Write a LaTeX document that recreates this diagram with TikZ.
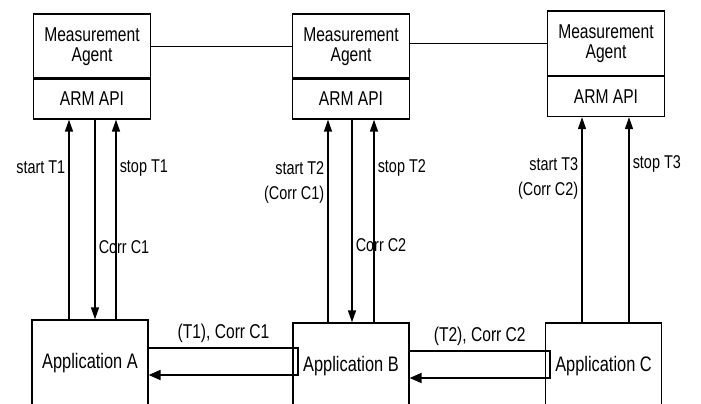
\documentclass[tikz,border=0pt]{standalone}
\usepackage{fontspec}
\setmainfont[FakeStretch=0.78]{Liberation Sans}
\usetikzlibrary{arrows.meta,calc}

\begin{document}
\begin{tikzpicture}[x=1pt,y=-1pt]
        \tikzstyle{every node}=[font=\fontsize{20}{20}\selectfont]
        \tikzstyle{agent}=[draw, line width=1.3pt, minimum width=117pt, minimum height=65pt, inner sep=0pt, align=center]
        \tikzstyle{api}=[draw, line width=1.3pt, minimum width=117pt, minimum height=40pt, inner sep=0pt]
        \tikzstyle{app}=[draw, line width=1.3pt, minimum width=116pt, minimum height=86pt, inner sep=0pt, font=\fontsize{21}{22}\selectfont]
        \tikzstyle{call}=[->, >={Triangle[length=12pt,width=8pt]}, line width=1.5pt]
        \tikzstyle{flow}=[->, >={Triangle[length=12pt,width=10pt]}, line width=2pt]
        \tikzstyle{lbl}=[font=\fontsize{18.5}{25}\selectfont, inner sep=3pt]
        \useasboundingbox (0,0) rectangle (701,404);
        \clip (0,0) rectangle (701,404);
        % agents
        \node [agent] (agA) at (92,46.5) {Measurement\\Agent};
        \node [api] (apiA) at (92,99) {ARM API};
        \node [agent] (agB) at (351,46.5) {Measurement\\Agent};
        \node [api] (apiB) at (351,99) {ARM API};
        \node [agent] (agC) at (606,43.5) {Measurement\\Agent};
        \node [api] (apiC) at (606,96.5) {ARM API};
        \draw [line width=2.2pt] (apiA.north west) -- (apiA.north east);
        \draw [line width=2.2pt] (apiB.north west) -- (apiB.north east);
        \draw [line width=2.2pt] (apiC.north west) -- (apiC.north east);
        \draw [line width=0.8pt] (agA.east) -- (agB.west);
        \draw [line width=0.8pt] (agB.east |- agC.west) -- (agC.west);
        % applications
        \node [app] (appA) at (90,363) {Application A};
        \node [app] (appB) at (351,366) {Application B};
        \node [app] (appC) at (603.5,366) {Application C};
        % calls to the ARM API
        \draw [call] ([xshift=-21pt]appA.north) -- ([xshift=-21pt]appA.north |- apiA.south) node [lbl, pos=0.76, left] {start T1};
        \draw [call] ([xshift=3pt]apiA.south) -- ([xshift=3pt]apiA.south |- appA.north) node [lbl, pos=0.64, right] {Corr C1};
        \draw [call] ([xshift=26pt]appA.north) -- ([xshift=26pt]appA.north |- apiA.south) node [lbl, pos=0.76, right] {stop T1};
        \draw [call] ([xshift=-23pt]appB.north) -- ([xshift=-23pt]appB.north |- apiB.south) node [lbl, pos=0.69, left, align=right] {start T2\\(Corr C1)};
        \draw [call] ([xshift=1pt]apiB.south) -- ([xshift=1pt]apiB.south |- appB.north) node [lbl, pos=0.62, right] {Corr C2};
        \draw [call] ([xshift=23pt]appB.north) -- ([xshift=23pt]appB.north |- apiB.south) node [lbl, pos=0.76, right] {stop T2};
        \draw [call] ([xshift=-21.5pt]appC.north) -- ([xshift=-21.5pt]appC.north |- apiC.south) node [lbl, pos=0.70, left, align=right] {start T3\\(Corr C2)};
        \draw [call] ([xshift=25.5pt]appC.north) -- ([xshift=25.5pt]appC.north |- apiC.south) node [lbl, pos=0.77, right] {stop T3};
        % correlators between applications
        \draw [flow] ([yshift=15pt]appA.east) -| ($(appB.west)+(6,9)$) node [pos=0.25, above, inner sep=4pt] {(T1), Corr C1} coordinate (rAB) -- (appA.east |- rAB);
        \draw [flow] ([yshift=15pt]appB.east) -| ($(appC.west)+(5,12)$) node [pos=0.25, above, inner sep=4pt] {(T2), Corr C2} coordinate (rBC) -- (appB.east |- rBC);
    \end{tikzpicture}
\end{document}
